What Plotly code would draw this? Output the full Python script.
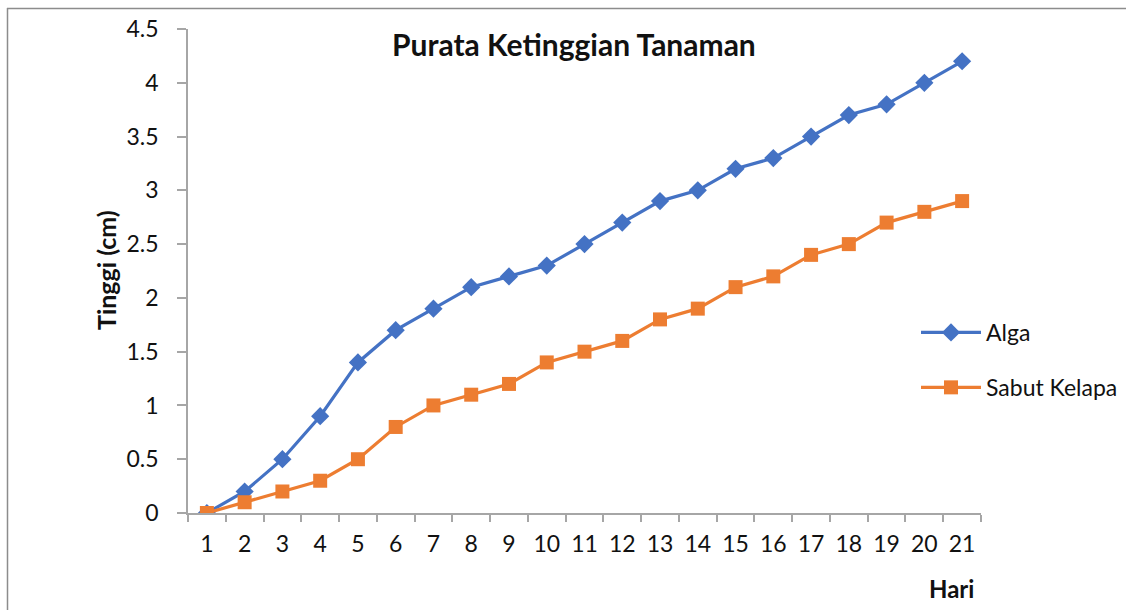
import plotly.graph_objects as go

hari = [str(i) for i in range(1, 22)]
alga = [0, 0.2, 0.5, 0.9, 1.4, 1.7, 1.9, 2.1, 2.2, 2.3, 2.5, 2.7, 2.9, 3.0, 3.2, 3.3, 3.5, 3.7, 3.8, 4.0, 4.2]
sabut = [0, 0.1, 0.2, 0.3, 0.5, 0.8, 1.0, 1.1, 1.2, 1.4, 1.5, 1.6, 1.8, 1.9, 2.1, 2.2, 2.4, 2.5, 2.7, 2.8, 2.9]

W, H = 1126, 610
L, R, T, B = 188, 981, 29, 513

def px(x):
    return (x - L) / (R - L)

def py(y):
    return (B - y) / (B - T)

FONT = "Lato, Carlito, Calibri, sans-serif"
BLUE = "#4472C4"
ORANGE = "#ED7D31"
TXT = "#111111"

fig = go.Figure()
fig.add_trace(go.Scatter(x=hari, y=alga, name="Alga", mode="lines+markers",
                         line=dict(color=BLUE, width=3.2),
                         marker=dict(symbol="diamond", size=14, color=BLUE),
                         legendgroup="a"))
fig.add_trace(go.Scatter(x=hari, y=sabut, name="Sabut Kelapa", mode="lines+markers",
                         line=dict(color=ORANGE, width=3.2),
                         marker=dict(symbol="square", size=14, color=ORANGE),
                         legendgroup="b"))

fig.update_layout(
    width=W, height=H,
    margin=dict(l=L, r=W - R, t=T, b=H - B, autoexpand=False),
    paper_bgcolor="white", plot_bgcolor="white",
    font=dict(family=FONT, size=23, color=TXT),
    showlegend=True,
    legend=dict(x=px(916), y=py(360), xanchor="left", yanchor="middle",
                font=dict(size=23, color=TXT), tracegroupgap=22, itemwidth=60,
                bgcolor="rgba(0,0,0,0)"),
    xaxis=dict(type="category", range=[-0.5, 20.5], showgrid=False, showline=True,
               linecolor="#a6a6a6", linewidth=1.5,
               ticks="outside", ticklen=7, tickcolor="#a6a6a6", tickwidth=1.5,
               tickson="boundaries", ticklabelstandoff=10, zeroline=False,
               tickfont=dict(size=23, color=TXT)),
    yaxis=dict(range=[0, 4.5], dtick=0.5, showgrid=False, showline=True, linecolor="#a6a6a6",
               linewidth=1.5, ticks="outside", ticklen=9, tickcolor="#a6a6a6", tickwidth=1.5,
               ticklabelstandoff=14, zeroline=False, tickfont=dict(size=23, color=TXT)),
    shapes=[
        dict(type="line", xref="paper", yref="paper", x0=px(7), x1=px(1130), y0=py(8.5), y1=py(8.5),
             line=dict(color="#8c8c8c", width=1.5)),
        dict(type="line", xref="paper", yref="paper", x0=px(7.5), x1=px(7.5), y0=py(8), y1=py(615),
             line=dict(color="#8c8c8c", width=1.5)),
    ],
    annotations=[
        dict(text="<b>Purata Ketinggian Tanaman</b>", x=px(574), y=py(44), xref="paper", yref="paper",
             showarrow=False, font=dict(size=30, family=FONT, color=TXT), xanchor="center", yanchor="middle"),
        dict(text="<b>Tinggi (cm)</b>", x=px(106), y=py(270), xref="paper", yref="paper",
             showarrow=False, textangle=-90, font=dict(size=25, family=FONT, color=TXT),
             xanchor="center", yanchor="middle"),
        dict(text="<b>Hari</b>", x=px(951), y=py(588), xref="paper", yref="paper",
             showarrow=False, font=dict(size=24, family=FONT, color=TXT),
             xanchor="center", yanchor="middle"),
    ],
)

fig.write_html("out.html", config={"displayModeBar": False},
               post_script="document.body.style.margin='0';")
